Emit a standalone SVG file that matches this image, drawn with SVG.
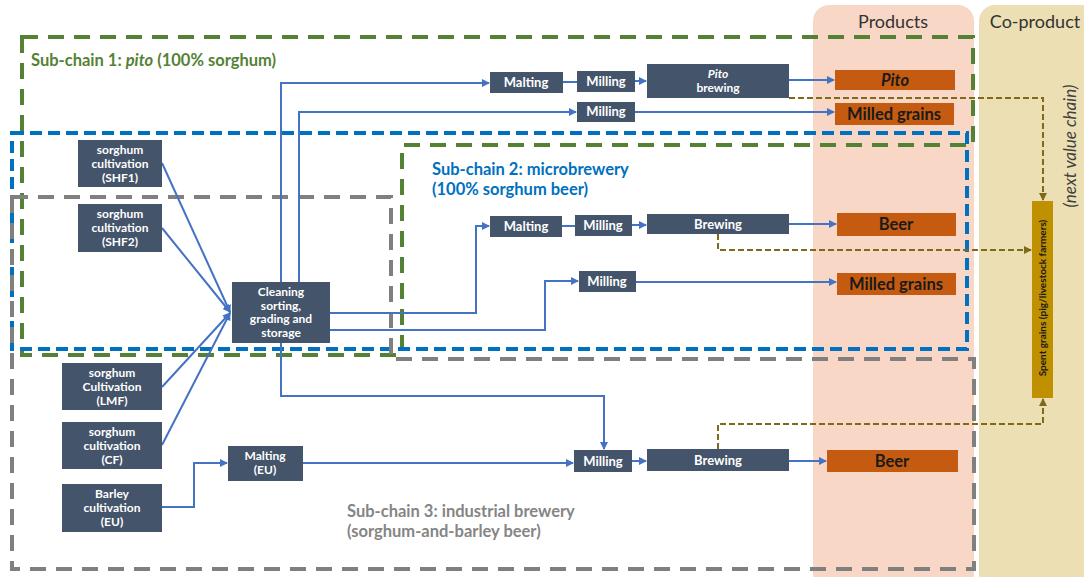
<svg xmlns="http://www.w3.org/2000/svg" width="1084" height="577" viewBox="0 0 1084 577">
<style>
.node{fill:#44546a}
.nt{font-family:Lato,"Liberation Sans",sans-serif;font-weight:bold;font-size:12px;fill:#ffffff;text-anchor:middle}
.nt1{font-family:Lato,"Liberation Sans",sans-serif;font-weight:bold;font-size:13px;fill:#ffffff;text-anchor:middle}
.prod{fill:#c55a11}
.pt{font-family:Lato,"Liberation Sans",sans-serif;font-weight:bold;font-size:16.5px;fill:#1a1a1a;text-anchor:middle}
.hdr{font-family:Lato,"Liberation Sans",sans-serif;font-size:18px;fill:#333333;text-anchor:middle}
.lbl{font-family:Lato,"Liberation Sans",sans-serif;font-weight:bold;font-size:16.5px}
.flow{fill:none;stroke:#4472c4;stroke-width:2}
.co{fill:none;stroke:#7f6a1a;stroke-width:2;stroke-dasharray:6,3}
.g{fill:none;stroke:#548235;stroke-width:4;stroke-dasharray:16,10}
.b{fill:none;stroke:#0070c0;stroke-width:4;stroke-dasharray:12,6}
.gr{fill:none;stroke:#808080;stroke-width:4;stroke-dasharray:16,10}
</style>
<defs>
<marker id="ab" markerWidth="8" markerHeight="8" refX="7" refY="4" orient="auto" markerUnits="userSpaceOnUse"><path d="M0,0 L8,4 L0,8 Z" fill="#4472c4"/></marker>
<marker id="ac" markerWidth="8" markerHeight="8" refX="7" refY="4" orient="auto" markerUnits="userSpaceOnUse"><path d="M0,0 L8,4 L0,8 Z" fill="#7f6a1a"/></marker>
</defs>
<rect width="1084" height="577" fill="#ffffff"/>
<g id="columns">
<rect x="813" y="5" width="161" height="585" rx="16" fill="#f9d7c6"/>
<rect x="979" y="5" width="120" height="585" rx="16" fill="#ecdfb4"/>
<text class="hdr" x="893" y="28">Products</text>
<text class="hdr" x="1035" y="28">Co-product</text>
<text x="1076" y="146" transform="rotate(-90 1076 146)" font-family="Lato,'Liberation Sans',sans-serif" font-style="italic" font-size="17" fill="#404040" text-anchor="middle">(next value chain)</text>
</g>
<g id="subchains">
<path class="g" d="M22,37 H973 V145 H402 V355 H22 Z"/>
<path class="b" d="M12,133 H967 V349 H12 Z"/>
<path class="gr" d="M12,197 H391 V359 H974 V569 H12 Z"/>
<text class="lbl" x="31" y="66" fill="#548235">Sub-chain 1: <tspan font-style="italic">pito</tspan> (100% sorghum)</text>
<text class="lbl" x="432" y="175" fill="#0070c0">Sub-chain 2: microbrewery</text>
<text class="lbl" x="432" y="195" fill="#0070c0">(100% sorghum beer)</text>
<text class="lbl" x="347" y="517" fill="#858585">Sub-chain 3: industrial brewery</text>
<text class="lbl" x="347" y="537" fill="#858585">(sorghum-and-barley beer)</text>
</g>
<g id="connectors">
<path class="flow" d="M162,163 L230,312" marker-end="url(#ab)"/>
<path class="flow" d="M162,228 L230,312" marker-end="url(#ab)"/>
<path class="flow" d="M162,387 L230,313" marker-end="url(#ab)"/>
<path class="flow" d="M162,445 L230,313" marker-end="url(#ab)"/>
<path class="flow" d="M281,282 V83 H489" marker-end="url(#ab)"/>
<path class="flow" d="M299,282 V112 H576" marker-end="url(#ab)"/>
<path class="flow" d="M330,313 H476 V226 H489" marker-end="url(#ab)"/>
<path class="flow" d="M330,330 H545 V281 H578" marker-end="url(#ab)"/>
<path class="flow" d="M281,343 V396 H604 V449" marker-end="url(#ab)"/>
<path class="flow" d="M162,507 H194 V463 H227" marker-end="url(#ab)"/>
<path class="flow" d="M303,463 H573" marker-end="url(#ab)"/>
<path class="flow" d="M563,82 H577"/>
<path class="flow" d="M635,81 H646" marker-end="url(#ab)"/>
<path class="flow" d="M789,80 H834" marker-end="url(#ab)"/>
<path class="flow" d="M635,112 H834" marker-end="url(#ab)"/>
<path class="flow" d="M562,226 H575"/>
<path class="flow" d="M632,225 H646" marker-end="url(#ab)"/>
<path class="flow" d="M789,224 H836" marker-end="url(#ab)"/>
<path class="flow" d="M636,282 H836" marker-end="url(#ab)"/>
<path class="flow" d="M632,461 H646" marker-end="url(#ab)"/>
<path class="flow" d="M789,461 H826" marker-end="url(#ab)"/>
<path class="co" d="M789,98 H1043 V200" marker-end="url(#ac)"/>
<path class="co" d="M718,234 V250 H1031" marker-end="url(#ac)"/>
<path class="co" d="M718,449 V424 H1043 V399" marker-end="url(#ac)"/>
</g>
<g id="shf1"><rect class="node" x="78" y="140" width="84" height="47"/><text class="nt" x="120" y="154">sorghum</text><text class="nt" x="120" y="168">cultivation</text><text class="nt" x="120" y="182">(SHF1)</text></g>
<g id="shf2"><rect class="node" x="78" y="204" width="84" height="48"/><text class="nt" x="120" y="218">sorghum</text><text class="nt" x="120" y="232">cultivation</text><text class="nt" x="120" y="246">(SHF2)</text></g>
<g id="lmf"><rect class="node" x="62" y="363" width="100" height="47"/><text class="nt" x="112" y="377">sorghum</text><text class="nt" x="112" y="391">Cultivation</text><text class="nt" x="112" y="405">(LMF)</text></g>
<g id="cf"><rect class="node" x="62" y="422" width="100" height="47"/><text class="nt" x="112" y="436">sorghum</text><text class="nt" x="112" y="450">cultivation</text><text class="nt" x="112" y="464">(CF)</text></g>
<g id="barley"><rect class="node" x="62" y="484" width="100" height="48"/><text class="nt" x="112" y="498">Barley</text><text class="nt" x="112" y="512">cultivation</text><text class="nt" x="112" y="526">(EU)</text></g>
<g id="malting-eu"><rect class="node" x="228" y="446" width="75" height="35"/><text class="nt" x="265" y="460">Malting</text><text class="nt" x="265" y="474">(EU)</text></g>
<g id="cleaning"><rect class="node" x="232" y="282" width="98" height="61"/><text class="nt" x="281" y="296">Cleaning</text><text class="nt" x="281" y="309.5">sorting,</text><text class="nt" x="281" y="323">grading and</text><text class="nt" x="281" y="336.5">storage</text></g>
<g id="malting1"><rect class="node" x="490" y="72" width="73" height="21"/><text class="nt1" x="526" y="87">Malting</text></g>
<g id="milling1"><rect class="node" x="577" y="71" width="58" height="21"/><text class="nt1" x="606" y="86">Milling</text></g>
<g id="pito-brewing"><rect class="node" x="647" y="64" width="142" height="34"/><text class="nt" x="718" y="78" font-style="italic">Pito</text><text class="nt" x="718" y="92">brewing</text></g>
<g id="milling1b"><rect class="node" x="577" y="102" width="58" height="20"/><text class="nt1" x="606" y="116">Milling</text></g>
<g id="malting2"><rect class="node" x="490" y="216" width="72" height="21"/><text class="nt1" x="526" y="231">Malting</text></g>
<g id="milling2"><rect class="node" x="575" y="215" width="57" height="21"/><text class="nt1" x="603" y="230">Milling</text></g>
<g id="brewing2"><rect class="node" x="647" y="214" width="142" height="20"/><text class="nt1" x="718" y="229">Brewing</text></g>
<g id="milling2b"><rect class="node" x="579" y="271" width="57" height="21"/><text class="nt1" x="607" y="286">Milling</text></g>
<g id="milling3"><rect class="node" x="574" y="450" width="58" height="22"/><text class="nt1" x="603" y="466">Milling</text></g>
<g id="brewing3"><rect class="node" x="647" y="449" width="142" height="22"/><text class="nt1" x="718" y="465">Brewing</text></g>
<g id="p-pito"><rect class="prod" x="835" y="70" width="120" height="20"/><text class="pt" x="895" y="86" font-style="italic">Pito</text></g>
<g id="p-milled1"><rect class="prod" x="835" y="103" width="119" height="22"/><text class="pt" x="894" y="120">Milled grains</text></g>
<g id="p-beer2"><rect class="prod" x="837" y="213" width="119" height="23"/><text class="pt" x="896" y="230">Beer</text></g>
<g id="p-milled2"><rect class="prod" x="837" y="273" width="119" height="22"/><text class="pt" x="896" y="290">Milled grains</text></g>
<g id="p-beer3"><rect class="prod" x="827" y="450" width="131" height="22"/><text class="pt" x="892" y="467">Beer</text></g>
<g id="spent"><rect x="1032" y="201" width="21" height="197" fill="#bf9000"/><text x="1046" y="298" transform="rotate(-90 1046 298)" font-family="Lato,'Liberation Sans',sans-serif" font-weight="bold" font-size="10" fill="#1a1a1a" text-anchor="middle">Spent grains (pig/livestock farmers)</text></g>
</svg>
